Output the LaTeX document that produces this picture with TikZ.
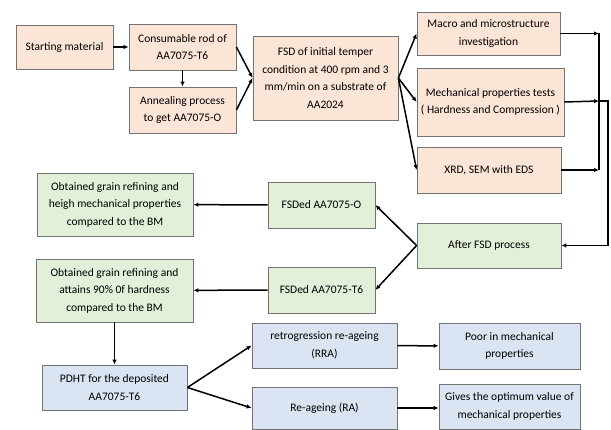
\documentclass[tikz,border=0pt]{standalone}
\usepackage{fontspec}
\setmainfont{Carlito}
\usetikzlibrary{arrows.meta,calc}
\definecolor{peach}{RGB}{251,229,214}
\definecolor{lgreen}{RGB}{226,240,217}
\definecolor{lblue}{RGB}{219,228,243}
\tikzstyle{box}=[draw=black!55,line width=0.8pt,align=center,inner sep=2pt,font=\fontsize{11.5}{17.5}\selectfont]
\tikzstyle{peachbox}=[box,fill=peach]
\tikzstyle{greenbox}=[box,fill=lgreen]
\tikzstyle{bluebox}=[box,fill=lblue]
\tikzstyle{flow}=[line width=1.5pt,-{Latex[length=5pt,width=4.5pt]}]
\begin{document}
\begin{tikzpicture}[x=1pt,y=-1pt]
	\useasboundingbox (0,0) rectangle (611,430);
	% top row
	\node[peachbox,minimum width=97pt,minimum height=44pt] (start) at (64.5,47) {Starting material};
	\node[peachbox,minimum width=107pt,minimum height=46pt] (rod) at (182.5,47) {Consumable rod of\\AA7075-T6};
	\node[peachbox,minimum width=107pt,minimum height=46pt] (anneal) at (182.5,110) {Annealing process\\to get AA7075-O};
	\node[peachbox,minimum width=145pt,minimum height=84pt] (fsd) at (325.5,78) {FSD of initial temper\\condition at 400 rpm and 3\\mm/min on a substrate of\\AA2024};
	\node[peachbox,minimum width=143pt,minimum height=43pt] (macro) at (488.5,33.5) {Macro and microstructure\\investigation};
	\node[peachbox,minimum width=147pt,minimum height=68pt] (mech) at (490.5,102) {Mechanical properties tests\\( Hardness and Compression )};
	\node[peachbox,minimum width=144pt,minimum height=46pt] (xrd) at (489,170) {XRD, SEM with EDS};
	% middle
	\node[greenbox,minimum width=144pt,minimum height=45pt] (after) at (489,245.5) {After FSD process};
	\node[greenbox,minimum width=107pt,minimum height=46pt] (fsdO) at (321.5,205) {FSDed AA7075-O};
	\node[greenbox,minimum width=107pt,minimum height=46pt] (fsdT) at (321.5,290) {FSDed AA7075-T6};
	\node[greenbox,minimum width=156pt,minimum height=63pt] (grainO) at (115,204.5) {Obtained grain refining and\\heigh mechanical properties\\compared to the BM};
	\node[greenbox,minimum width=157pt,minimum height=63pt] (grainT) at (114.5,290.5) {Obtained grain refining and\\attains 90\% 0f hardness\\compared to the BM};
	% bottom
	\node[bluebox,minimum width=145pt,minimum height=45pt] (pdht) at (114.5,387.5) {PDHT for the deposited\\AA7075-T6};
	\node[bluebox,minimum width=145pt,minimum height=45pt] (rra) at (324.5,345.5) {retrogression re-ageing\\(RRA)};
	\node[bluebox,minimum width=145pt,minimum height=42pt] (ra) at (324.5,408) {Re-ageing (RA)};
	\node[bluebox,minimum width=141pt,minimum height=46pt] (poor) at (509.5,346) {Poor in mechanical\\properties};
	\node[bluebox,minimum width=141pt,minimum height=45pt] (gives) at (509.5,406.5) {Gives the optimum value of\\mechanical properties};
	\coordinate (busA) at (599,33.5);
	\coordinate (busB) at (599,101);
	\coordinate (busC) at (599,170);
	% arrows
	\draw[flow] (start) -- (rod);
	\draw[flow] (rod) -- (anneal);
	\draw[flow] (rod.east) -- (fsd.west);
	\draw[flow] (anneal.east) -- (fsd.west);
	\draw[flow] (fsd.east) -- (macro.west);
	\draw[flow] (fsd.east) -- (mech.west);
	\draw[flow] (fsd.east) -- (xrd.west);
	\draw[flow] (macro.east) -- (busA);
	\draw[flow] (mech.east) -- (busB);
	\draw[flow] (xrd.east) -- (busC);
	\draw[line width=1.5pt] (busA) -- (busC);
	\draw[flow] (busB) -- ++(9,0) |- (after.east);
	\draw[flow] (after.west) -- (fsdO.east);
	\draw[flow] (after.west) -- (fsdT.east);
	\draw[flow] (fsdO) -- (grainO);
	\draw[flow] (fsdT) -- (grainT);
	\draw[flow] (grainT) -- (pdht);
	\draw[flow] (pdht.east) -- (rra.west);
	\draw[flow] (pdht.east) -- (ra.west);
	\draw[flow] (rra) -- (poor);
	\draw[flow] (ra.east) -- (ra.east -| gives.west);
\end{tikzpicture}
\end{document}
